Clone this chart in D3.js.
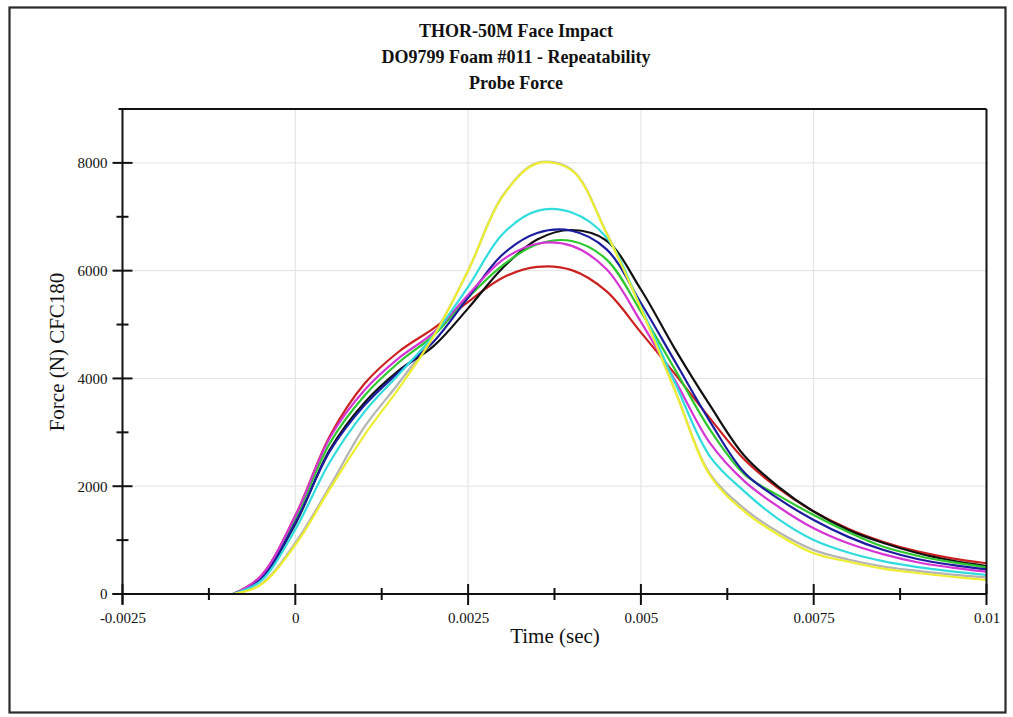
<!DOCTYPE html>
<html>
<head>
<meta charset="utf-8">
<script src="https://cdn.jsdelivr.net/npm/d3@7"></script>
<style>
  html, body { margin: 0; padding: 0; background: #fff; }
  svg { display: block; }
  text { font-family: "Liberation Serif", "Times New Roman", serif; }
</style>
</head>
<body>
<svg id="chart" width="1013" height="717"></svg>
<script>
// ---------------- data ----------------
const titleLines = ["THOR-50M Face Impact", "DO9799 Foam #011 - Repeatability", "Probe Force"];
const xLabel = "Time (sec)";
const yLabel = "Force (N) CFC180";

const xTickValues = [-0.0025, 0, 0.0025, 0.005, 0.0075, 0.01];
const xTickLabels = ["-0.0025", "0", "0.0025", "0.005", "0.0075", "0.01"];
const yTickValues = [0, 2000, 4000, 6000, 8000];
const yTickLabels = ["0", "2000", "4000", "6000", "8000"];

const time = [-0.0009, -0.0005, 0, 0.0005, 0.001, 0.0015, 0.002, 0.0025, 0.003, 0.0035,
              0.004, 0.0045, 0.005, 0.0055, 0.006, 0.0065, 0.007, 0.0075, 0.008, 0.0085,
              0.009, 0.0095, 0.01];

const seriesNames  = ["gray", "red", "black", "green", "navy", "magenta", "cyan", "yellow"];
const seriesColors = ["#b4b4b4", "#cc2020", "#111111", "#2ec82e", "#1c1ca0", "#d535d5", "#30dcdc", "#eeee30"];

const gray    = [0, 180, 950, 2000, 3100, 3920, 4800, 6000, 7390, 8000, 7870, 6710, 5310, 3760, 2230, 1580, 1140, 816, 640, 510, 430, 360, 310];
const red     = [0, 330, 1450, 2930, 3900, 4500, 4930, 5420, 5870, 6070, 6010, 5620, 4855, 4070, 3260, 2490, 1950, 1530, 1210, 970, 790, 660, 570];
const black   = [0, 280, 1300, 2680, 3550, 4150, 4600, 5300, 6050, 6580, 6755, 6560, 5650, 4530, 3500, 2560, 1980, 1530, 1190, 950, 760, 620, 520];
const green   = [0, 310, 1400, 2800, 3680, 4300, 4800, 5500, 6100, 6490, 6550, 6210, 5240, 4150, 3050, 2220, 1820, 1466, 1150, 880, 710, 590, 495];
const navy    = [0, 285, 1320, 2650, 3500, 4120, 4680, 5500, 6300, 6700, 6740, 6400, 5400, 4300, 3200, 2250, 1760, 1373, 1060, 820, 650, 540, 458];
const magenta = [0, 330, 1450, 2900, 3780, 4380, 4850, 5550, 6200, 6500, 6460, 6030, 5050, 3950, 2800, 2090, 1610, 1219, 940, 740, 590, 490, 414];
const cyan    = [0, 240, 1200, 2450, 3380, 4080, 4800, 5700, 6680, 7110, 7080, 6620, 5320, 3900, 2550, 1900, 1380, 1002, 770, 610, 500, 420, 353];
const yellow  = [0, 170, 910, 1950, 2950, 3820, 4780, 6000, 7380, 7990, 7860, 6700, 5300, 3750, 2200, 1530, 1090, 755, 600, 470, 390, 320, 260];

const seriesValues = [gray, red, black, green, navy, magenta, cyan, yellow];

// ---------------- layout ----------------
(function () {
const svg = d3.select("#chart");
const pL = 122.5, pR = 986.5, pT = 109, pB = 594;

const x = d3.scaleLinear().domain([-0.0025, 0.01]).range([pL, pR]);
const y = d3.scaleLinear().domain([0, 9000]).range([pB, pT]);

// outer frame
svg.append("rect")
  .attr("x", 9.5).attr("y", 7.5).attr("width", 996).attr("height", 705)
  .attr("fill", "none").attr("stroke", "#2a2a2a").attr("stroke-width", 2.2);

// titles
const titleY = [37, 63, 89];
titleLines.forEach((t, i) => {
  svg.append("text")
    .attr("x", 516).attr("y", titleY[i])
    .attr("text-anchor", "middle")
    .attr("font-size", 18).attr("font-weight", "bold")
    .attr("fill", "#111")
    .text(t);
});

// gridlines
const g = svg.append("g");
g.selectAll(".vgrid").data([0, 0.0025, 0.005, 0.0075]).enter().append("line")
  .attr("x1", d => x(d)).attr("x2", d => x(d)).attr("y1", pT).attr("y2", pB)
  .attr("stroke", "#e2e2e2").attr("stroke-width", 1);
g.selectAll(".hgrid").data([2000, 4000, 6000, 8000]).enter().append("line")
  .attr("x1", pL).attr("x2", pR).attr("y1", d => y(d)).attr("y2", d => y(d))
  .attr("stroke", "#e2e2e2").attr("stroke-width", 1);

// series lines
const line = d3.line()
  .x((d, i) => x(time[i]))
  .y(d => y(d))
  .curve(d3.curveCatmullRom.alpha(0.5));

svg.append("g").selectAll("path").data(seriesValues).enter().append("path")
  .attr("d", d => line(d))
  .attr("fill", "none")
  .attr("stroke", (d, i) => seriesColors[i])
  .attr("stroke-width", 2.2)
  .attr("stroke-linejoin", "round");

// plot box: top and right
svg.append("line").attr("x1", pL - 4).attr("x2", pR).attr("y1", pT).attr("y2", pT)
  .attr("stroke", "#111").attr("stroke-width", 2);
svg.append("line").attr("x1", pR).attr("x2", pR).attr("y1", pT).attr("y2", pB)
  .attr("stroke", "#111").attr("stroke-width", 2);

// x axis labels
const xAxis = d3.axisBottom(x).tickValues(xTickValues)
  .tickFormat((d, i) => xTickLabels[i]).tickSize(0).tickPadding(18);
const xg = svg.append("g").attr("transform", `translate(0,${pB})`).call(xAxis);
xg.select(".domain").remove();
xg.selectAll("text").attr("font-family", "Liberation Serif").attr("font-size", 15).attr("fill", "#111");

// y axis labels
const yAxis = d3.axisLeft(y).tickValues(yTickValues)
  .tickFormat((d, i) => yTickLabels[i]).tickSize(0).tickPadding(15);
const yg = svg.append("g").attr("transform", `translate(${pL},0)`).call(yAxis);
yg.select(".domain").remove();
yg.selectAll("text").attr("font-family", "Liberation Serif").attr("font-size", 15).attr("fill", "#111");

// axis lines
svg.append("line").attr("x1", pL - 10).attr("x2", pR).attr("y1", pB).attr("y2", pB)
  .attr("stroke", "#111").attr("stroke-width", 2);
svg.append("line").attr("x1", pL).attr("x2", pL).attr("y1", pT).attr("y2", pB + 10)
  .attr("stroke", "#111").attr("stroke-width", 2);

// x ticks
const xMinor = [-0.00125, 0.00125, 0.00375, 0.00625, 0.00875];
svg.append("g").selectAll("line").data(xTickValues).enter().append("line")
  .attr("x1", d => x(d)).attr("x2", d => x(d)).attr("y1", pB - 10).attr("y2", pB + 11)
  .attr("stroke", "#111").attr("stroke-width", 2);
svg.append("g").selectAll("line").data(xMinor).enter().append("line")
  .attr("x1", d => x(d)).attr("x2", d => x(d)).attr("y1", pB - 6).attr("y2", pB + 6)
  .attr("stroke", "#111").attr("stroke-width", 2);

// y ticks
const yMinor = [1000, 3000, 5000, 7000];
svg.append("g").selectAll("line").data(yTickValues).enter().append("line")
  .attr("x1", pL - 10).attr("x2", pL + 10).attr("y1", d => y(d)).attr("y2", d => y(d))
  .attr("stroke", "#111").attr("stroke-width", 2);
svg.append("g").selectAll("line").data(yMinor).enter().append("line")
  .attr("x1", pL - 6).attr("x2", pL + 6).attr("y1", d => y(d)).attr("y2", d => y(d))
  .attr("stroke", "#111").attr("stroke-width", 2);

// axis titles
svg.append("text").attr("x", 555).attr("y", 643).attr("text-anchor", "middle")
  .attr("font-size", 21).attr("fill", "#111").text(xLabel);
svg.append("text").attr("transform", "translate(57,352) rotate(-90)")
  .attr("text-anchor", "middle").attr("dominant-baseline", "central")
  .attr("font-size", 21).attr("fill", "#111").text(yLabel);
})();
</script>
</body>
</html>
